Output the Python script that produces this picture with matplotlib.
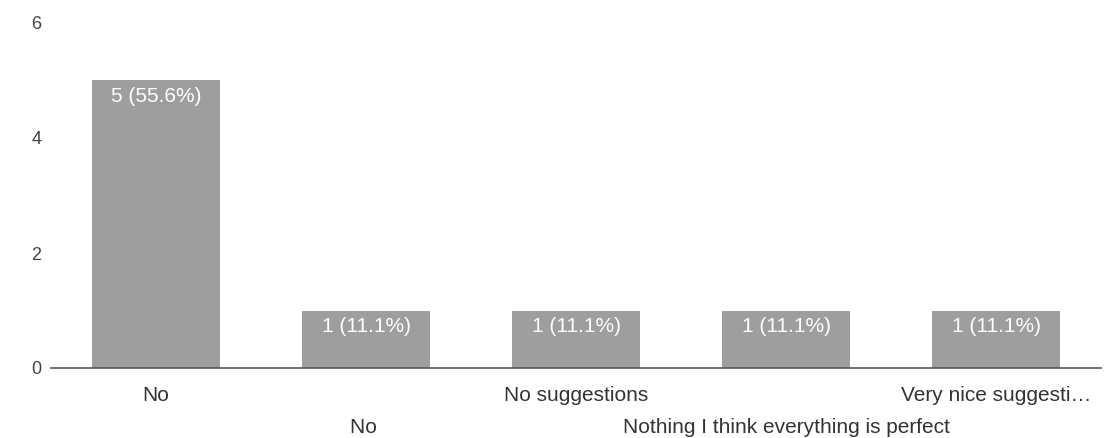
"""Bar chart of free-text answers, Google Forms style."""

import matplotlib
matplotlib.use("Agg")
import matplotlib.pyplot as plt

answers = ["No", "No ", "No suggestions", "Nothing I think everything is perfect",
           "Very nice suggesti\u2026"]
counts = [5, 1, 1, 1, 1]
yticks = [0, 2, 4, 6]

total = sum(counts)
labels = [f"{c} ({100 * c / total:.1f}%)" for c in counts]

plt.rcParams["font.family"] = ["Liberation Sans", "DejaVu Sans"]

fig = plt.figure(figsize=(11.04, 4.38), dpi=100)
ax = fig.add_axes([51 / 1104, 70 / 438, 1050 / 1104, 345 / 438])

x = list(range(len(answers)))
ax.bar(x, counts, width=0.61, color="#9e9e9e", zorder=2)

for xi, c, lab in zip(x, counts, labels):
    ax.annotate(lab, (xi, c), xytext=(0, -5), textcoords="offset points",
                ha="center", va="top", color="white", fontsize=15)

ax.set_xlim(-0.5, len(answers) - 0.5)
ax.set_ylim(0, 6)
ax.set_yticks(yticks)
ax.tick_params(axis="y", length=0, pad=7, labelsize=13, labelcolor="#444444")

# two rows of category labels: even ones on the first row, odd ones below
ax.set_xticks(x[0::2], answers[0::2])
ax.set_xticks(x[1::2], answers[1::2], minor=True)
ax.tick_params(axis="x", which="major", length=0, pad=13, labelsize=15,
               labelcolor="#333333")
ax.tick_params(axis="x", which="minor", length=0, pad=36, labelsize=15,
               labelcolor="#333333")

for side in ("top", "right", "left"):
    ax.spines[side].set_visible(False)
ax.spines["bottom"].set_color("#555555")
ax.spines["bottom"].set_linewidth(1.2)

fig.savefig("out.png", dpi=100)
